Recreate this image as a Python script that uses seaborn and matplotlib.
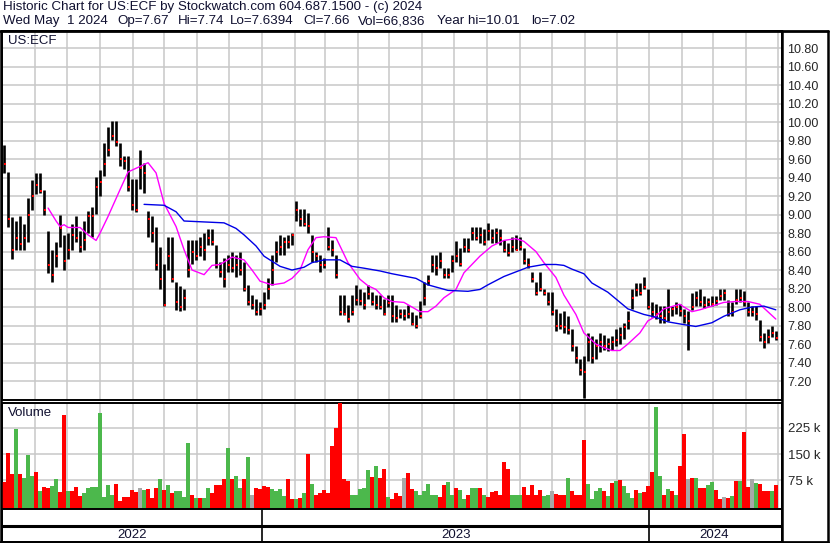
import numpy as np
import pandas as pd
import matplotlib
matplotlib.use("Agg")
import matplotlib.pyplot as plt
import matplotlib.dates as mdates
from matplotlib.lines import Line2D
from matplotlib.ticker import FixedLocator, FuncFormatter
import seaborn as sns

# --- data (one bar per ~3.8 calendar days) ---
highs = [9.75, 9.46, 8.97, 8.93, 8.98, 8.90, 9.18, 9.37, 9.45, 9.45,
         9.27, 8.82, 8.62, 8.70, 9.00, 8.78, 8.80, 8.90, 8.98, 8.82,
         8.93, 9.04, 9.08, 9.41, 9.48, 9.77, 9.95, 10.01, 10.01, 9.77,
         9.63, 9.63, 9.38, 9.38, 9.70, 9.56, 9.04, 8.98, 8.86, 8.65,
         8.47, 8.76, 8.76, 8.27, 8.23, 8.20, 8.72, 8.72, 8.72, 8.76,
         8.80, 8.84, 8.84, 8.67, 8.49, 8.53, 8.56, 8.60, 8.56, 8.60,
         8.49, 8.24, 8.13, 8.09, 8.05, 8.16, 8.31, 8.56, 8.71, 8.78,
         8.76, 8.78, 8.80, 9.15, 9.06, 9.06, 9.02, 8.78, 8.60, 8.56,
         8.53, 8.87, 8.73, 8.56, 8.13, 8.13, 8.02, 8.13, 8.24, 8.20,
         8.16, 8.24, 8.16, 8.13, 8.13, 8.09, 8.13, 8.13, 8.02, 7.98,
         7.98, 8.02, 7.95, 7.91, 8.06, 8.27, 8.35, 8.56, 8.56, 8.60,
         8.42, 8.42, 8.56, 8.71, 8.64, 8.75, 8.75, 8.87, 8.87, 8.87,
         8.84, 8.91, 8.84, 8.85, 8.84, 8.73, 8.69, 8.76, 8.78, 8.76,
         8.64, 8.53, 8.38, 8.27, 8.38, 8.20, 8.16, 8.16, 7.98, 7.94,
         7.96, 7.90, 7.76, 7.58, 7.44, 7.47, 7.72, 7.69, 7.65, 7.72,
         7.70, 7.67, 7.69, 7.76, 7.78, 7.83, 7.96, 8.19, 8.26, 8.26,
         8.33, 8.19, 8.05, 8.03, 8.01, 8.01, 8.19, 8.01, 8.05, 8.03,
         7.98, 7.96, 8.15, 8.17, 8.19, 8.12, 8.10, 8.12, 8.12, 8.20,
         8.20, 8.08, 8.05, 8.19, 8.19, 8.17, 8.05, 8.01, 8.01, 7.86,
         7.72, 7.76, 7.79, 7.74]
lows = [9.45, 8.86, 8.52, 8.62, 8.62, 8.62, 8.70, 9.05, 9.22, 9.23,
        9.00, 8.37, 8.27, 8.43, 8.65, 8.40, 8.52, 8.62, 8.70, 8.60,
        8.62, 8.80, 8.76, 9.01, 9.20, 9.42, 9.63, 9.81, 9.74, 9.52,
        9.49, 9.25, 9.05, 9.03, 9.28, 9.23, 8.76, 8.70, 8.40, 8.19,
        8.01, 8.40, 8.27, 7.97, 7.96, 7.97, 8.33, 8.47, 8.51, 8.55,
        8.51, 8.67, 8.67, 8.42, 8.33, 8.22, 8.38, 8.38, 8.33, 8.35,
        8.17, 8.02, 7.98, 7.91, 7.91, 7.98, 8.09, 8.24, 8.49, 8.56,
        8.56, 8.64, 8.67, 8.93, 8.88, 8.88, 8.80, 8.49, 8.49, 8.38,
        8.42, 8.62, 8.55, 8.31, 7.91, 7.91, 7.84, 7.91, 8.02, 8.02,
        7.98, 8.09, 8.02, 7.98, 7.98, 7.91, 8.00, 7.84, 7.84, 7.88,
        7.86, 7.88, 7.81, 7.77, 7.88, 8.02, 8.24, 8.38, 8.35, 8.42,
        8.31, 8.31, 8.38, 8.49, 8.44, 8.60, 8.60, 8.73, 8.73, 8.69,
        8.67, 8.73, 8.69, 8.69, 8.67, 8.60, 8.55, 8.60, 8.62, 8.62,
        8.46, 8.42, 8.27, 8.13, 8.17, 8.13, 8.02, 7.91, 7.74, 7.76,
        7.72, 7.71, 7.53, 7.40, 7.27, 7.02, 7.42, 7.40, 7.44, 7.51,
        7.54, 7.53, 7.54, 7.58, 7.60, 7.65, 7.76, 7.98, 8.12, 8.13,
        8.19, 7.98, 7.89, 7.87, 7.83, 7.83, 7.85, 7.90, 7.92, 7.90,
        7.83, 7.54, 7.97, 8.01, 8.01, 7.99, 8.01, 8.01, 8.02, 8.08,
        8.08, 7.90, 7.90, 8.03, 8.05, 8.01, 7.90, 7.90, 7.86, 7.63,
        7.56, 7.61, 7.68, 7.64]
closes = [9.55, 8.95, 8.62, 8.75, 8.68, 8.75, 9.00, 9.20, 9.32, 9.25,
          9.05, 8.45, 8.35, 8.55, 8.85, 8.50, 8.62, 8.78, 8.75, 8.65,
          8.72, 8.98, 8.98, 9.30, 9.35, 9.55, 9.70, 9.85, 9.78, 9.60,
          9.58, 9.30, 9.10, 9.05, 9.50, 9.45, 8.95, 8.80, 8.45, 8.30,
          8.02, 8.55, 8.30, 8.05, 8.00, 8.10, 8.40, 8.60, 8.55, 8.65,
          8.62, 8.75, 8.70, 8.45, 8.38, 8.30, 8.45, 8.42, 8.45, 8.40,
          8.20, 8.05, 8.02, 7.95, 7.98, 8.02, 8.20, 8.40, 8.60, 8.65,
          8.70, 8.70, 8.78, 9.05, 8.95, 8.90, 8.88, 8.60, 8.55, 8.45,
          8.45, 8.65, 8.62, 8.35, 7.95, 7.92, 7.87, 7.95, 8.08, 8.06,
          8.02, 8.14, 8.05, 8.02, 8.00, 7.93, 8.04, 7.90, 7.88, 7.92,
          7.90, 7.93, 7.82, 7.80, 7.90, 8.10, 8.28, 8.45, 8.42, 8.50,
          8.35, 8.35, 8.50, 8.55, 8.47, 8.65, 8.62, 8.80, 8.75, 8.78,
          8.70, 8.82, 8.75, 8.80, 8.75, 8.62, 8.58, 8.65, 8.62, 8.65,
          8.50, 8.45, 8.30, 8.15, 8.20, 8.15, 8.05, 7.95, 7.80, 7.80,
          7.78, 7.75, 7.58, 7.45, 7.32, 7.30, 7.62, 7.45, 7.58, 7.62,
          7.58, 7.60, 7.62, 7.64, 7.70, 7.78, 7.85, 8.10, 8.18, 8.15,
          8.22, 8.00, 7.95, 7.92, 7.90, 7.88, 7.95, 7.98, 8.00, 7.96,
          7.90, 7.85, 8.00, 8.10, 8.05, 8.02, 8.05, 8.03, 8.06, 8.12,
          8.15, 7.92, 7.95, 8.08, 8.10, 8.05, 7.95, 7.95, 7.92, 7.68,
          7.62, 7.68, 7.72, 7.66]

# volume in thousands and day direction (r = down, g = up, n = unchanged)
volume_k = [70, 152, 91, 221, 91, 82, 148, 87, 99, 43,
            55, 52, 58, 77, 41, 261, 43, 43, 55, 30,
            38, 53, 55, 55, 268, 25, 60, 33, 64, 14,
            25, 25, 45, 41, 51, 45, 48, 23, 51, 77,
            45, 62, 38, 43, 43, 25, 181, 31, 22, 22,
            24, 53, 38, 60, 60, 77, 166, 77, 87, 53,
            77, 140, 33, 51, 48, 58, 55, 48, 43, 48,
            28, 77, 20, 19, 22, 38, 150, 64, 33, 38,
            45, 38, 174, 225, 300, 78, 72, 33, 33, 48,
            53, 103, 84, 116, 82, 106, 25, 20, 38, 30,
            82, 94, 48, 43, 33, 43, 64, 33, 31, 26,
            60, 70, 31, 51, 45, 19, 33, 51, 51, 53,
            33, 25, 41, 43, 33, 128, 106, 33, 33, 33,
            55, 33, 62, 33, 45, 28, 33, 43, 35, 33,
            33, 82, 43, 33, 33, 190, 64, 19, 43, 53,
            43, 28, 67, 72, 76, 58, 38, 24, 45, 38,
            41, 58, 99, 285, 87, 33, 48, 43, 31, 116,
            208, 77, 82, 82, 53, 53, 60, 70, 45, 19,
            25, 24, 30, 72, 72, 212, 55, 79, 67, 64,
            43, 43, 43, 60]
direction = list("rrrgrgggrg" "rrggrrgrrr" "ggggggggrr" "rrrrngrrrg"
                 "rgrggggrgr" "ggrrrrgrgg" "rgnrrrrggg" "grrgrgrgrr"
                 "rrrrrrrggg" "ggrgrrgrrr" "nrrggggggr" "rggrggrggr"
                 "grrrrrrggg" "rrrrrggnrr" "rgrrrrgggg" "rgrgrgggrg"
                 "rrrggrgrgr" "rnrgrrggrr" "nrgrgrrngr" "rrgr")

# moving averages read at sampled bar positions
ma_fast_idx = [11, 13, 14, 15, 16, 19, 21, 23, 24, 26, 29, 31, 33, 36, 38,
               40, 43, 45, 47, 50, 52, 54, 57, 60, 62, 64, 67, 70, 72, 74,
               76, 78, 80, 83, 84, 86, 89, 91, 93, 95, 97, 100, 102, 104, 106,
               108, 110, 113, 115, 119, 122, 125, 128, 130, 133, 135, 138, 140,
               143, 145, 148, 150, 152, 154, 156, 159, 161, 163, 165, 169, 170,
               172, 174, 177, 180, 183, 186, 189, 191, 193]
ma_fast = [9.07, 8.93, 8.87, 8.89, 8.86, 8.86, 8.78, 8.72, 8.80, 8.98, 9.27,
           9.46, 9.50, 9.56, 9.45, 9.12, 8.87, 8.62, 8.40, 8.35, 8.45, 8.46,
           8.54, 8.51, 8.40, 8.28, 8.24, 8.26, 8.31, 8.40, 8.62, 8.75, 8.76,
           8.75, 8.66, 8.48, 8.30, 8.23, 8.19, 8.10, 8.06, 8.05, 8.00, 7.95,
           7.95, 8.01, 8.10, 8.19, 8.37, 8.55, 8.66, 8.72, 8.74, 8.71, 8.60,
           8.48, 8.32, 8.13, 7.92, 7.72, 7.60, 7.56, 7.53, 7.53, 7.60, 7.72,
           7.85, 7.90, 7.98, 8.03, 8.00, 7.95, 7.97, 8.01, 8.05, 8.06, 8.06,
           8.03, 7.95, 7.87]
ma_slow_idx = [35, 40, 43, 45, 50, 55, 58, 60, 63, 65, 69, 72, 75, 77, 80, 84,
               87, 90, 94, 97, 103, 106, 111, 116, 119, 121, 125, 128, 131,
               135, 138, 140, 142, 145, 147, 151, 156, 160, 163, 166, 170, 173,
               177, 180, 184, 187, 190, 193]
ma_slow = [9.11, 9.10, 9.03, 8.93, 8.92, 8.91, 8.85, 8.78, 8.66, 8.55, 8.44,
           8.40, 8.43, 8.48, 8.51, 8.51, 8.44, 8.42, 8.39, 8.36, 8.31, 8.24,
           8.18, 8.17, 8.19, 8.24, 8.33, 8.38, 8.43, 8.46, 8.46, 8.45, 8.41,
           8.36, 8.26, 8.16, 7.98, 7.92, 7.89, 7.84, 7.81, 7.79, 7.83, 7.90,
           7.97, 8.00, 8.01, 7.97]

price_ticks = [7.2, 7.4, 7.6, 7.8, 8.0, 8.2, 8.4, 8.6, 8.8, 9.0,
               9.2, 9.4, 9.6, 9.8, 10.0, 10.2, 10.4, 10.6, 10.8]
volume_ticks = [75000, 150000, 225000]
years = ["2022", "2023", "2024"]

title_line1 = "Historic Chart for US:ECF by Stockwatch.com 604.687.1500 - (c) 2024"
title_fields = ["Wed May  1 2024", "Op=7.67", "Hi=7.74", "Lo=7.6394",
                "Cl=7.66", "Vol=66,836", "Year hi=10.01", "lo=7.02"]
title_field_px = [2, 116, 177, 229, 302, 357, 436, 530]

# --- style ---
sns.set_style("white")
plt.rcParams["font.family"] = ["Liberation Sans", "DejaVu Sans"]

W, H = 830, 543
GRID = "#c8c8c8"
vol_colors = {"r": "#ff0000", "g": "#4cb84c", "n": "#a8a8a8"}


def box(x0, y0, x1, y1):
    return [x0 / W, 1 - y1 / H, (x1 - x0) / W, (y1 - y0) / H]


dates = pd.date_range("2022-05-03", "2024-04-29", periods=len(closes))
x_start = pd.Timestamp("2022-05-01")
x_end = pd.Timestamp("2024-05-04 20:00")

fig = plt.figure(figsize=(W / 100, H / 100), dpi=100)
fig.patch.set_facecolor("white")

ax_p = fig.add_axes(box(2, 31, 782, 400))
ax_v = fig.add_axes(box(2, 403, 782, 509))
ax_t = fig.add_axes(box(2, 509, 782, 542))

for ax in (ax_p, ax_v, ax_t):
    ax.set_xlim(x_start, x_end)
    for s in ax.spines.values():
        s.set_color("black")
        s.set_linewidth(1.4)
    ax.tick_params(length=0)

# price panel
ax_p.set_ylim(6.995, 10.984)
ax_p.yaxis.tick_right()
ax_p.yaxis.set_major_locator(FixedLocator(price_ticks))
ax_p.yaxis.set_major_formatter(FuncFormatter(lambda v, p: f"{v:.2f}"))
ax_p.tick_params(axis="y", labelsize=9, pad=4)
ax_p.xaxis.set_major_locator(mdates.MonthLocator())
ax_p.set_xticklabels([])
ax_p.grid(True, color=GRID, lw=1.1)
ax_p.set_axisbelow(True)

ax_p.vlines(dates, lows, highs, color="black", lw=1.9, zorder=3)
ax_p.scatter(dates + pd.Timedelta(days=0.8), closes, marker="s", s=3,
             color="red", lw=0, zorder=4)
sns.lineplot(x=dates[ma_fast_idx], y=ma_fast, ax=ax_p, color="#ff00ff",
             lw=1.0, estimator=None, sort=False, zorder=5)
sns.lineplot(x=dates[ma_slow_idx], y=ma_slow, ax=ax_p, color="#0000e6",
             lw=1.0, estimator=None, sort=False, zorder=5)
ax_p.set_xlabel("")
ax_p.set_ylabel("")
ax_p.text(0.008, 0.99, "US:ECF", transform=ax_p.transAxes, ha="left",
          va="top", fontsize=9.5, color="#101030")

# volume panel
vol = np.array(volume_k) * 1000.0
vol_floor = -8500
ax_v.set_ylim(vol_floor, 297000)
ax_v.bar(dates, vol - vol_floor, bottom=vol_floor, width=3.2,
         color=[vol_colors[d] for d in direction], lw=0, zorder=3)
ax_v.yaxis.tick_right()
ax_v.yaxis.set_major_locator(FixedLocator(volume_ticks))
ax_v.yaxis.set_major_formatter(FuncFormatter(lambda v, p: f"{int(v / 1000)} k"))
ax_v.tick_params(axis="y", labelsize=9.5, pad=4)
ax_v.xaxis.set_major_locator(mdates.MonthLocator())
ax_v.set_xticklabels([])
ax_v.grid(True, color=GRID, lw=1.1)
ax_v.set_axisbelow(True)
ax_v.text(0.008, 0.96, "Volume", transform=ax_v.transAxes, ha="left",
          va="top", fontsize=9.5, color="#101030")

# year strip
ax_t.set_ylim(0, 1)
ax_t.set_yticks([])
ax_t.set_xticks([])
ax_t.axhline(0.47, color="black", lw=2.2)
year_edges = [x_start, pd.Timestamp("2023-01-01"), pd.Timestamp("2024-01-01"),
              pd.Timestamp("2024-05-01")]
for edge in year_edges[1:3]:
    ax_t.axvline(edge, color="black", lw=1.2)
for yr, a, b in zip(years, year_edges[:-1], year_edges[1:]):
    ax_t.text(a + (b - a) / 2, 0.22, yr, ha="center", va="center",
              fontsize=9.5, color="#101030")

# outer frame lines
frame = [((0.001, 0.001), (31, 542)), ((0.997, 0.997), (31, 542)),
         ((0, 0.997), (31, 31)), ((0, 0.997), (541.5, 541.5)),
         ((782 / W, 782 / W), (31, 542))]
for xs, ys in frame:
    fig.add_artist(Line2D(xs, [1 - ys[0] / H, 1 - ys[1] / H], color="black",
                          lw=1.8 if ys[0] != ys[1] else 2.0))

fig.text(3 / W, 1 - 1 / H, title_line1, ha="left", va="top", fontsize=9.6,
         color="#101030")
for field, px in zip(title_fields, title_field_px):
    fig.text((px + 1) / W, 1 - 15 / H, field, ha="left", va="top",
             fontsize=9.6, color="#101030")

fig.savefig("out.png", dpi=100)
